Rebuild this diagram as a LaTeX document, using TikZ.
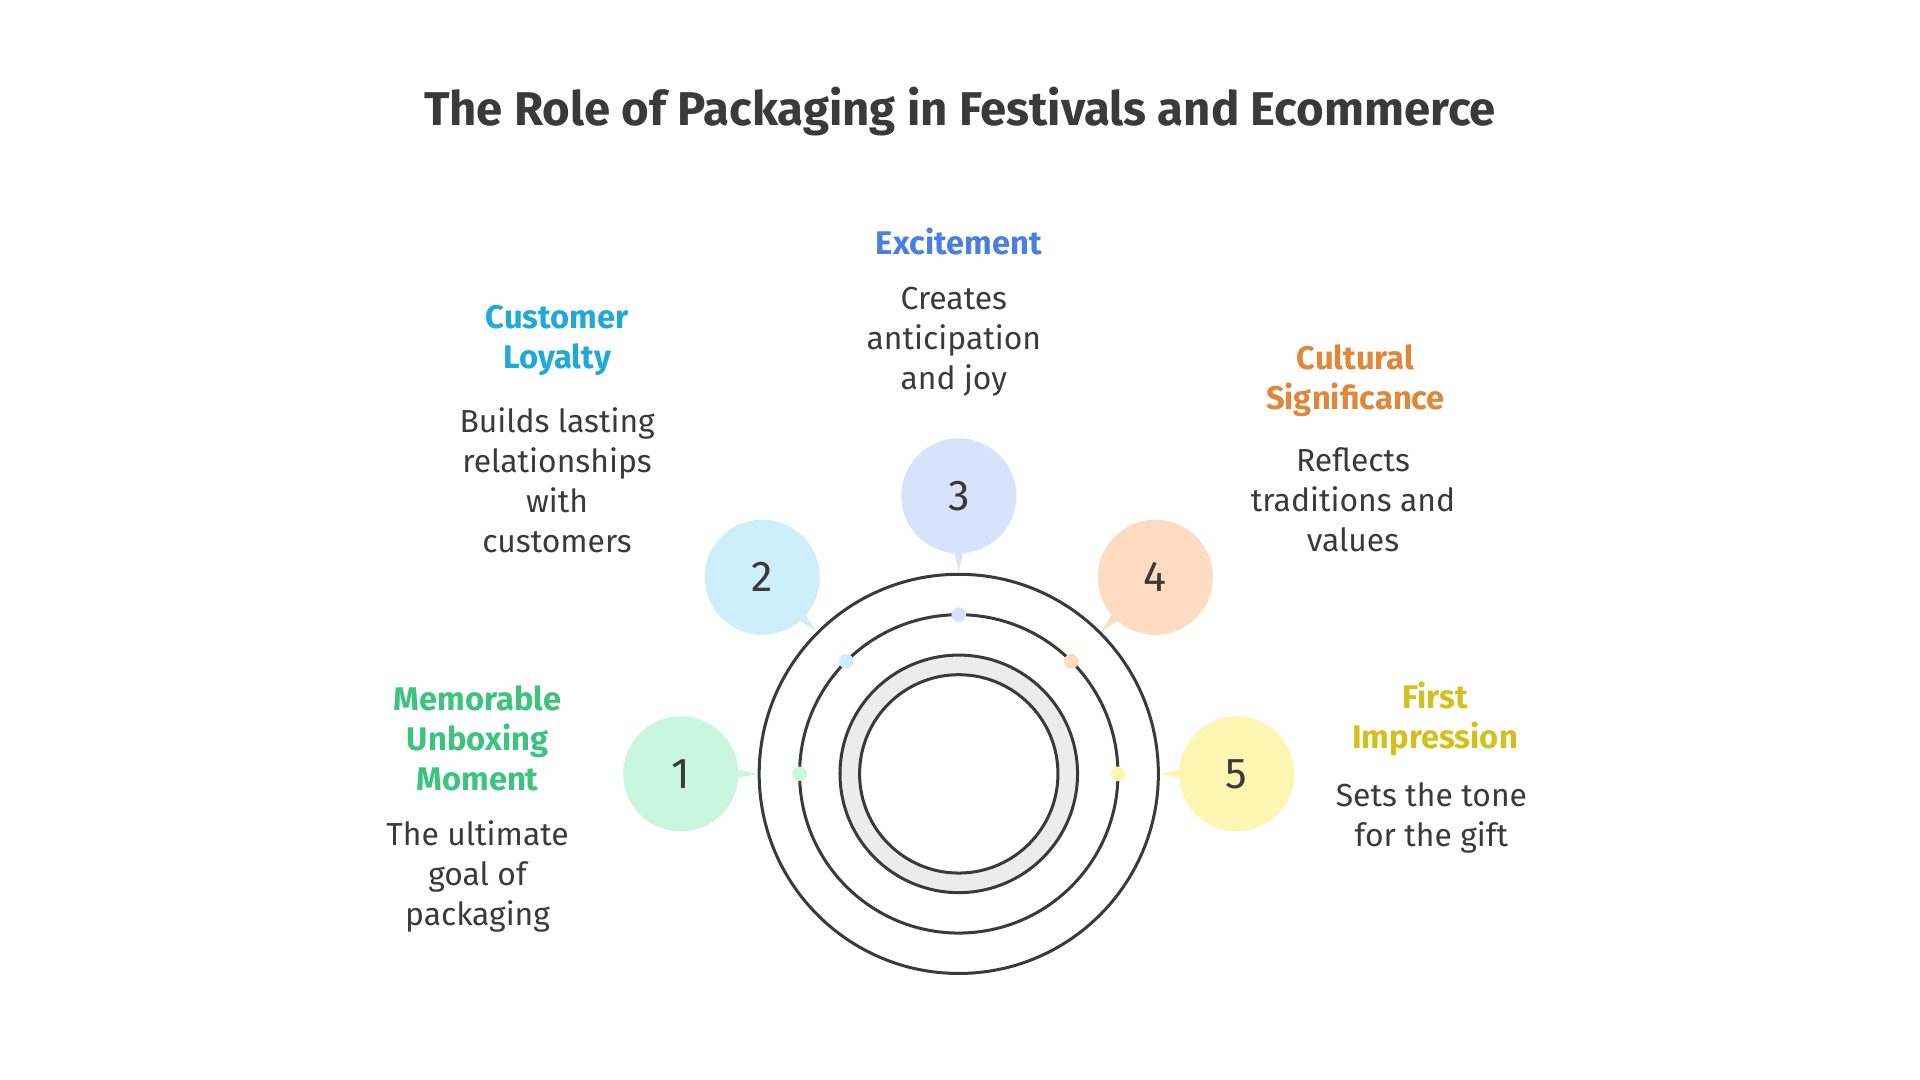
\documentclass[tikz,border=0pt]{standalone}
\usetikzlibrary{calc}
\usepackage{fontspec}
\setmainfont{Fira Sans}
\definecolor{ink}{HTML}{3A3A3A}
\definecolor{cA}{HTML}{C9F6DF}\definecolor{tA}{HTML}{3CC47E}
\definecolor{cB}{HTML}{CDEFFB}\definecolor{tB}{HTML}{1EA9D6}
\definecolor{cC}{HTML}{D7E3FB}\definecolor{tC}{HTML}{4A7FE0}
\definecolor{cD}{HTML}{FDDCC2}\definecolor{tD}{HTML}{E0873A}
\definecolor{cE}{HTML}{FDF5B2}\definecolor{tE}{HTML}{D4C01C}
\tikzset{
 head/.style={font=\bfseries\fontsize{7.6}{9.2}\selectfont,align=center},
 body/.style={font=\fontsize{7.4}{9.3}\selectfont,align=center,text=ink},
 num/.style={font=\fontsize{10}{12}\selectfont,text=ink},
 ring/.style={draw=ink,line width=0.7pt}
}
\begin{document}
\begin{tikzpicture}[x=0.01cm,y=-0.01cm]
\useasboundingbox (0,0) rectangle (1568,882);
\node[font=\bfseries\fontsize{11}{13}\selectfont,text=ink] (title) at (784,91) {The Role of Packaging in Festivals and Ecommerce};
\coordinate (c) at (783,632);
\fill[gray!15] (c) circle (97);
\draw[ring,fill=white] (c) circle (81);
\draw[ring] (c) circle (97);
\draw[ring] (c) circle (130);
\draw[ring] (c) circle (163);
\foreach \a/\col/\n in {180/cA/1,225/cB/2,270/cC/3,315/cD/4,0/cE/5}{
  \fill[\col] ($(c)+(\a:130)$) circle (6);
  \fill[\col] ($(c)+(\a:227)+(\a+90:14)$) -- ($(c)+(\a:165)$) -- ($(c)+(\a:227)+(\a-90:14)$) -- cycle;
  \node[circle,fill=\col,inner sep=0,num,minimum size=0.94cm] (b\n) at ($(c)+(\a:227)$) {\n};
}
\node[head,text=tA] (h1) at (390,603) {Memorable\\Unboxing\\Moment};
\node[body] (d1) at (390,716) {The ultimate\\goal of\\packaging};
\node[head,text=tB] (h2) at (455,278) {Customer\\Loyalty};
\node[body] (d2) at (455,392) {Builds lasting\\relationships\\with\\customers};
\node[head,text=tC] (h3) at (783,197) {Excitement};
\node[body] (d3) at (779,279) {Creates\\anticipation\\and joy};
\node[head,text=tD] (h4) at (1107,311) {Cultural\\Significance};
\node[body] (d4) at (1105,408) {Reflects\\traditions and\\values};
\node[head,text=tE] (h5) at (1172,587) {First\\Impression};
\node[body] (d5) at (1169,668) {Sets the tone\\for the gift};
\end{tikzpicture}
\end{document}
